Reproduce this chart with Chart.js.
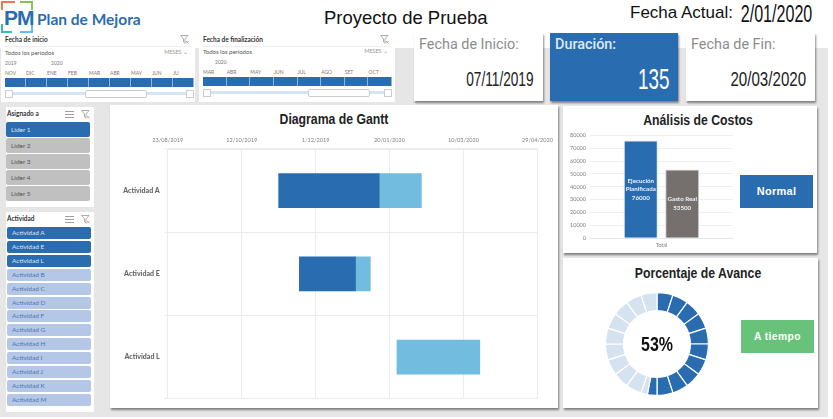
<!DOCTYPE html>
<html lang="es">
<head>
<meta charset="utf-8">
<title>Proyecto de Prueba</title>
<script src="https://cdn.jsdelivr.net/npm/chart.js@4"></script>
<style>
    html, body { margin: 0; padding: 0; background: #fff; overflow: hidden; }
    body { width: 833px; height: 419px; position: relative; font-family: "Liberation Sans", Arial, sans-serif; filter: blur(.3px); }
    .abs, .card, canvas { position: absolute; }
    .card { background: #fff; box-shadow: 1px 2px 2px rgba(0,0,0,.45); }
    .title { position: absolute; font-weight: bold; color: #222; white-space: nowrap; transform: translateX(-50%) scaleX(.875); }
    .narrow { position: absolute; white-space: nowrap; transform-origin: right top; transform: scaleX(.65); }
    .kpi-label { position: absolute; left: 5px; top: 3px; font-family: Roboto, sans-serif; font-size: 14.4px; color: #8c8c8c; }
    .status { position: absolute; color: #fff; font-weight: bold; text-align: center; }
    .slicer { position: absolute; background: #fff; font-family: Lato, sans-serif; color: #444; }
    .slicer div, .slicer span { position: absolute; white-space: nowrap; }
    .months { display: flex; }
    .months span { position: static; flex: 1; font-size: 5px; color: #777; }
    .cells { display: flex; background: #2a6cb0; }
    .cells span { position: static; flex: 1; background: #2a6cb0; border-right: 1px solid #8fb3d8; }
    .item { position: absolute; border-radius: 2px; font-family: Lato, sans-serif; font-size: 6.5px; padding-left: 5px; box-sizing: border-box; }
</style>
</head>
<body>
<!-- gray backdrop -->
<div class="abs" style="left:0;top:48px;width:828px;height:369px;background:#e6e6e6"></div>

<!-- logo -->
<div class="abs" style="left:1px;top:1px;width:12px;height:7px;border-left:2px solid #f0784a;border-top:2px solid #f0784a"></div>
<div class="abs" style="left:20px;top:1px;width:11px;height:7px;border-right:2px solid #8cc152;border-top:2px solid #8cc152"></div>
<div class="abs" style="left:1px;top:24px;width:9px;height:7px;border-left:2px solid #3fb8af;border-bottom:2px solid #3fb8af"></div>
<div class="abs" style="left:20px;top:24px;width:11px;height:7px;border-right:2px solid #5bc0eb;border-bottom:2px solid #5bc0eb"></div>
<div class="abs" style="left:4px;top:6px;font-size:21px;font-weight:bold;color:#2a6cb0;letter-spacing:-1px">PM</div>
<div class="abs" style="left:37px;top:10px;font-family:Lato,sans-serif;font-size:15.5px;font-weight:bold;color:#2a6cb0">Plan de Mejora</div>

<div class="abs" style="left:324px;top:7px;font-size:18.5px;color:#111">Proyecto de Prueba</div>
<div class="abs" style="left:630px;top:3px;font-size:17px;color:#111">Fecha Actual:</div>
<div class="narrow" style="right:21px;top:1px;font-size:23px;color:#111;transform:scaleX(.7)">2/01/2020</div>

<!-- slicers de fecha -->
<div id="slicerStart" class="slicer" style="left:1px;top:33px;width:194px;height:69px"></div>
<div id="slicerEnd" class="slicer" style="left:199px;top:33px;width:196px;height:69px"></div>

<!-- KPI -->
<div class="card" style="left:414px;top:33px;width:129px;height:68px">
    <div class="kpi-label">Fecha de Inicio:</div>
    <div class="narrow" style="right:9px;top:34px;font-size:21px;color:#222">07/11/2019</div>
</div>
<div class="card" style="left:550px;top:33px;width:128px;height:68px;background:#2a6cb0">
    <div class="kpi-label" style="color:#dfe9f4;font-weight:500">Duración:</div>
    <div class="narrow" style="right:9px;top:30px;font-size:29px;color:#fff">135</div>
</div>
<div class="card" style="left:686px;top:33px;width:129px;height:68px">
    <div class="kpi-label">Fecha de Fin:</div>
    <div class="narrow" style="right:9px;top:34px;font-size:21px;color:#222;transform:scaleX(.72)">20/03/2020</div>
</div>

<!-- slicers laterales -->
<div id="panelLider" class="slicer" style="left:6px;top:107px;width:88px;height:100px"></div>
<div id="panelActividad" class="slicer" style="left:6px;top:212px;width:88px;height:200px"></div>

<!-- Gantt -->
<div class="card" style="left:110px;top:105px;width:448px;height:303px"></div>
<div class="title" style="left:334px;top:111px;font-size:14px">Diagrama de Gantt</div>
<canvas id="ganttChart" width="448" height="303" style="left:110px;top:105px"></canvas>

<!-- Costos -->
<div class="card" style="left:563px;top:106px;width:254px;height:147px"></div>
<div class="title" style="left:698px;top:112px;font-size:14px">Análisis de Costos</div>
<canvas id="costChart" width="175" height="147" style="left:563px;top:106px"></canvas>
<div class="status" style="left:740px;top:175px;width:73px;height:33px;line-height:33px;background:#2a6cb0;font-size:11px;letter-spacing:.3px">Normal</div>

<!-- Avance -->
<div class="card" style="left:563px;top:258px;width:255px;height:150px"></div>
<div class="title" style="left:698px;top:265px;font-size:14px">Porcentaje de Avance</div>
<canvas id="progressChart" width="110" height="110" style="left:602px;top:289px"></canvas>
<div class="title" style="left:657px;top:333px;font-size:20px;color:#111;transform:translateX(-50%) scaleX(.8)">53%</div>
<div class="status" style="left:741px;top:320px;width:73px;height:33px;line-height:33px;background:#68c27a;font-size:10.3px;letter-spacing:.4px">A tiempo</div>

<script>
// Gantt (fechas como serial de Excel)
const activities = ["Actividad A", "Actividad E", "Actividad L"];
const ganttStart = [43775, 43789, 43855];
const ganttDone = [68, 38, null];
const ganttPending = [28.5, 10, 56];
const ganttTicks = ["23/08/2019", "12/10/2019", "1/12/2019", "20/01/2020", "10/03/2020", "29/04/2020"];

// Costos
const costSeries = ["Ejecución Planificada", "Gasto Real"];
const costValues = [76000, 53500];
const costLabels = [["Ejecución", "Planificada", "76000"], ["Gasto Real", "53500"]];

// Avance
const progressSlices = [5, 5, 5, 5, 5, 5, 5, 5, 5, 5, 3, 2, 5, 5, 5, 5, 5, 5, 5, 5, 5];
const progressColors = ["#2a6cb0", "#2a6cb0", "#2a6cb0", "#2a6cb0", "#2a6cb0", "#2a6cb0", "#2a6cb0", "#2a6cb0", "#2a6cb0", "#2a6cb0", "#2a6cb0",
    "#d5e2f0", "#d5e2f0", "#d5e2f0", "#d5e2f0", "#d5e2f0", "#d5e2f0", "#d5e2f0", "#d5e2f0", "#d5e2f0", "#d5e2f0"];

// Slicers
const lideres = ["Líder 1", "Líder 2", "Líder 3", "Líder 4", "Líder 5"];
const actividadesOn = ["Actividad A", "Actividad E", "Actividad L"];
const actividadesOff = ["Actividad B", "Actividad C", "Actividad D", "Actividad F", "Actividad G", "Actividad H", "Actividad I", "Actividad J", "Actividad K", "Actividad M"];
const mesesInicio = ["NOV", "DIC", "ENE", "FEB", "MAR", "ABR", "MAY", "JUN", "JU"];
const mesesFin = ["MAR", "ABR", "MAY", "JUN", "JUL", "AGO", "SET", "OCT"];

const BLUE = "#2a6cb0";
const filterIcon = `<svg width="9" height="9" viewBox="0 0 9 9" style="display:block"><path d="M0.5 0.5H8L5 4V8L3.5 7V4Z" fill="none" stroke="#999" stroke-width=".8"/><path d="M6 6L8.5 8.5M8.5 6L6 8.5" stroke="#e88" stroke-width=".8"/></svg>`;
const listIcon = `<svg width="9" height="9" viewBox="0 0 9 9" style="display:block"><path d="M0 1.5H9M0 4.5H9M0 7.5H9" stroke="#888" stroke-width=".8"/></svg>`;

function buildTimeline(el, title, meses, years, yearTop, barLeft, barWidth, barTop, handleLeft, lineTop) {
    el.innerHTML = `
        <div style="left:4px;top:3px;font-size:6.5px;font-weight:bold;color:#333">${title}</div>
        <div style="right:6px;top:2px">${filterIcon}</div>
        <div style="left:3px;right:3px;top:13px;height:1px;background:#eee"></div>
        <div style="left:4px;top:${lineTop - 4}px;font-size:6px;color:#555">Todos los períodos</div>
        <div style="right:7px;top:${lineTop - 4}px;font-size:5.5px;color:#999">MESES ⌄</div>
        ${years.map(y => `<div style="left:${y[1]}px;top:${yearTop}px;font-size:5px;color:#777">${y[0]}</div>`).join("")}
        <div class="months" style="left:${barLeft}px;width:${barWidth}px;top:${barTop - 8}px">${meses.map(m => `<span>${m}</span>`).join("")}</div>
        <div class="cells" style="left:${barLeft}px;width:${barWidth}px;top:${barTop}px;height:9px">${meses.map(() => "<span></span>").join("")}</div>
        <div style="left:${barLeft + 3}px;width:${barWidth - 6}px;top:${barTop + 14}px;height:3px;background:#d6e5f3"></div>
        <div style="left:${handleLeft}px;width:60px;top:${barTop + 12}px;height:6px;background:#fff;border:1px solid #ccc;border-radius:2px"></div>
        <div style="left:${barLeft}px;top:${barTop + 12}px;width:6px;height:6px;border:1px solid #ccc;background:#fff"></div>
        <div style="left:${barLeft + barWidth - 8}px;top:${barTop + 12}px;width:6px;height:6px;border:1px solid #ccc;background:#fff"></div>`;
}

function buildList(el, title, items, top, step, height, left, width) {
    let html = `<div style="left:1px;top:3px;font-size:6.5px;font-weight:bold;color:#333">${title}</div>
        <div style="right:20px;top:3px">${listIcon}</div>
        <div style="right:4px;top:3px">${filterIcon}</div>`;
    items.forEach((it, i) => {
        html += `<div class="item" style="left:${left}px;width:${width}px;top:${top + i * step}px;height:${height}px;line-height:${height}px;background:${it.bg};color:${it.fg}">${it.text}</div>`;
    });
    el.innerHTML = html;
}

buildTimeline(document.getElementById("slicerStart"), "Fecha de inicio", mesesInicio, [["2019", 4], ["2020", 50]], 27, 4, 189, 45, 84, 20);
buildTimeline(document.getElementById("slicerEnd"), "Fecha de finalización", mesesFin, [["2020", 16]], 26, 4, 189, 44, 109, 19);

buildList(document.getElementById("panelLider"), "Asignado a",
    lideres.map((l, i) => ({ text: l, bg: i === 0 ? BLUE : "#c0c0c0", fg: i === 0 ? "#dce8f4" : "#555" })),
    15, 16, 15, 0, 84);
buildList(document.getElementById("panelActividad"), "Actividad",
    actividadesOn.map(a => ({ text: a, bg: BLUE, fg: "#dce8f4" })).concat(
        actividadesOff.map(a => ({ text: a, bg: "#b4c7e7", fg: "#4f74ad" }))),
    15, 13.9, 12, 1, 84);

Chart.defaults.animation = false;
Chart.defaults.responsive = false;

new Chart(document.getElementById("ganttChart"), {
    type: "bar",
    data: {
        labels: activities,
        datasets: [
            { label: "Inicio", data: ganttStart, backgroundColor: "rgba(0,0,0,0)" },
            { label: "Avance", data: ganttDone, backgroundColor: BLUE },
            { label: "Pendiente", data: ganttPending, backgroundColor: "#72bcdf" }
        ]
    },
    options: {
        indexAxis: "y",
        layout: { padding: { top: 26, right: 19.7, bottom: 8.4 } },
        datasets: { bar: { barThickness: 34 } },
        plugins: { legend: { display: false }, tooltip: { enabled: false } },
        scales: {
            x: {
                position: "top",
                stacked: true,
                min: 43700,
                max: 43950,
                afterBuildTicks: s => { s.ticks = ganttTicks.map((_, i) => ({ value: 43700 + i * 50 })); },
                afterFit: s => { s.height = 18; },
                ticks: {
                    callback: (v, i) => ganttTicks[i],
                    color: "#7f7f7f",
                    font: { family: "Lato", size: 5.6 },
                    maxRotation: 0,
                    autoSkip: false,
                    padding: 5
                },
                grid: { color: "#ebebeb", drawTicks: false },
                border: { color: "#ebebeb" }
            },
            y: {
                stacked: true,
                afterFit: s => { s.width = 57.7; },
                ticks: { color: "#666", font: { family: "Lato", size: 7, weight: 900 }, padding: 5 },
                grid: { color: "#ebebeb", tickLength: 3 },
                border: { color: "#ebebeb" }
            }
        }
    }
});

const barTextPlugin = {
    id: "barText",
    afterDatasetsDraw(chart) {
        const ctx = chart.ctx;
        ctx.save();
        ctx.fillStyle = "#eef3f8";
        ctx.font = "bold 6.2px Lato";
        ctx.textAlign = "center";
        ctx.textBaseline = "middle";
        chart.data.datasets.forEach((ds, d) => {
            const bar = chart.getDatasetMeta(d).data[0];
            const lines = costLabels[d];
            const mid = (bar.y + bar.base) / 2;
            lines.forEach((t, i) => ctx.fillText(t, bar.x, mid + (i - (lines.length - 1) / 2) * 8.5));
        });
        ctx.restore();
    }
};

new Chart(document.getElementById("costChart"), {
    type: "bar",
    data: {
        labels: ["Total"],
        datasets: [
            { label: costSeries[0], data: [costValues[0]], backgroundColor: BLUE, borderColor: "#d5e2f0", borderWidth: 1 },
            { label: costSeries[1], data: [costValues[1]], backgroundColor: "#75706e", borderColor: "#d5d5d5", borderWidth: 1 }
        ]
    },
    options: {
        layout: { padding: { top: 29.3, right: 5 } },
        datasets: { bar: { categoryPercentage: 0.58, barPercentage: 0.82 } },
        plugins: { legend: { display: false }, tooltip: { enabled: false } },
        scales: {
            x: {
                afterFit: s => { s.height = 14.7; },
                ticks: { color: "#7f7f7f", font: { family: "Lato", size: 5.5 }, padding: 4 },
                grid: { display: false, drawTicks: false },
                border: { color: "#e6e6e6" }
            },
            y: {
                min: 0,
                max: 80000,
                afterFit: s => { s.width = 27; },
                ticks: { stepSize: 10000, color: "#7f7f7f", font: { family: "Lato", size: 5.5 }, padding: 4, callback: v => v },
                grid: { color: "#efefef", drawTicks: false },
                border: { display: false }
            }
        }
    },
    plugins: [barTextPlugin]
});

new Chart(document.getElementById("progressChart"), {
    type: "doughnut",
    data: {
        datasets: [{
            data: progressSlices,
            backgroundColor: progressColors,
            borderColor: "#fff",
            borderWidth: 1.2
        }]
    },
    options: {
        cutout: "65%",
        layout: { padding: 3 },
        plugins: { legend: { display: false }, tooltip: { enabled: false } }
    }
});
</script>
</body>
</html>
